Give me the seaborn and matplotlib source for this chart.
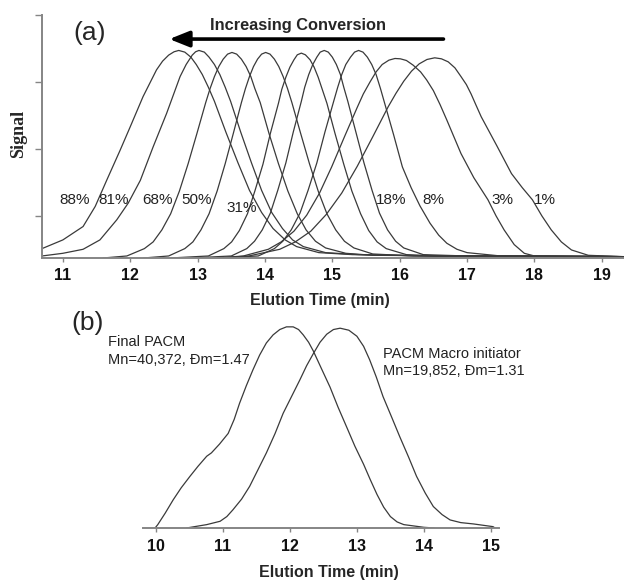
import matplotlib
matplotlib.use("Agg")
import matplotlib.pyplot as plt
import seaborn as sns
import pandas as pd

# ---- panel (a): GPC traces at increasing conversion ----
t88 = [10.69, 11.0, 11.3, 11.48, 11.65, 11.85, 12.0, 12.19, 12.39, 12.48, 12.57, 12.65, 12.72, 12.81,
       12.9, 12.98, 13.07, 13.16, 13.25, 13.42, 13.6, 13.77, 13.95, 14.12, 14.3, 14.47, 14.8, 15.3,
       16.5, 19.33]
s88 = [0.14, 0.27, 0.47, 0.77, 1.16, 1.61, 1.96, 2.41, 2.81, 2.94, 3.03, 3.08, 3.10, 3.075,
       3.00, 2.89, 2.74, 2.55, 2.34, 1.88, 1.42, 1.01, 0.68, 0.44, 0.27, 0.17, 0.08, 0.05,
       0.03, 0.02]

t81 = [10.69, 11.0, 11.3, 11.55, 11.8, 11.97, 12.15, 12.34, 12.54, 12.74, 12.83, 12.92, 12.97, 13.02,
       13.10, 13.17, 13.25, 13.33, 13.41, 13.49, 13.64, 13.8, 13.95, 14.1, 14.26, 14.41, 14.57, 14.9,
       15.4, 16.5, 19.33]
s81 = [0.03, 0.07, 0.13, 0.27, 0.57, 0.82, 1.16, 1.66, 2.16, 2.71, 2.89, 3.03, 3.08, 3.10,
       3.075, 3.00, 2.89, 2.74, 2.55, 2.34, 1.88, 1.42, 1.01, 0.68, 0.44, 0.27, 0.17, 0.08,
       0.05, 0.03, 0.02]

t68 = [11.6, 11.95, 12.21, 12.34, 12.47, 12.6, 12.73, 12.86, 12.99, 13.12, 13.185, 13.25, 13.315, 13.38,
       13.445, 13.51, 13.58, 13.65, 13.72, 13.79, 13.85, 13.93, 14.06, 14.2, 14.34, 14.48, 14.61, 14.75,
       14.9, 15.2, 15.6, 17.0, 19.33]
s68 = [0.0, 0.03, 0.14, 0.24, 0.42, 0.66, 1.0, 1.41, 1.86, 2.32, 2.53, 2.71, 2.86, 2.97,
       3.045, 3.07, 3.045, 2.97, 2.86, 2.71, 2.53, 2.32, 1.86, 1.41, 1.0, 0.66, 0.42, 0.25,
       0.15, 0.07, 0.04, 0.03, 0.02]

t50 = [12.2, 12.57, 12.81, 12.93, 13.05, 13.17, 13.29, 13.41, 13.53, 13.65, 13.71, 13.77, 13.83, 13.89,
       13.95, 14.01, 14.075, 14.14, 14.205, 14.27, 14.335, 14.4, 14.53, 14.66, 14.79, 14.92, 15.05, 15.18,
       15.32, 15.6, 16.2, 19.33]
s50 = [0.0, 0.03, 0.14, 0.24, 0.42, 0.66, 1.0, 1.41, 1.86, 2.32, 2.53, 2.71, 2.86, 2.97,
       3.045, 3.07, 3.045, 2.97, 2.86, 2.71, 2.53, 2.32, 1.86, 1.41, 1.0, 0.66, 0.42, 0.25,
       0.15, 0.06, 0.03, 0.02]

t31 = [12.6, 13.16, 13.39, 13.505, 13.62, 13.74, 13.85, 13.97, 14.08, 14.2, 14.25, 14.31, 14.37, 14.43,
       14.48, 14.54, 14.60, 14.67, 14.73, 14.79, 14.85, 14.92, 15.04, 15.17, 15.29, 15.42, 15.54, 15.665,
       15.8, 16.1, 16.6, 19.33]
s31 = [0.0, 0.03, 0.14, 0.24, 0.41, 0.66, 1.0, 1.40, 1.86, 2.31, 2.52, 2.70, 2.85, 2.96,
       3.035, 3.06, 3.035, 2.96, 2.85, 2.70, 2.52, 2.31, 1.86, 1.40, 1.0, 0.66, 0.41, 0.24,
       0.14, 0.05, 0.03, 0.02]

t18 = [12.9, 13.5, 13.73, 13.845, 13.96, 14.08, 14.19, 14.31, 14.42, 14.54, 14.59, 14.65, 14.71, 14.77,
       14.82, 14.88, 14.94, 15.0, 15.06, 15.12, 15.17, 15.23, 15.35, 15.47, 15.59, 15.7, 15.82, 15.94,
       16.06, 16.35, 17.0, 19.33]
s18 = [0.0, 0.03, 0.14, 0.25, 0.42, 0.67, 1.01, 1.42, 1.88, 2.34, 2.55, 2.74, 2.89, 3.00,
       3.075, 3.10, 3.075, 3.00, 2.89, 2.74, 2.55, 2.34, 1.88, 1.42, 1.01, 0.67, 0.42, 0.25,
       0.15, 0.05, 0.03, 0.02]

t8 = [13.3, 13.9, 14.14, 14.265, 14.39, 14.52, 14.64, 14.77, 14.89, 15.02, 15.08, 15.14, 15.2, 15.27,
      15.33, 15.39, 15.455, 15.52, 15.585, 15.65, 15.715, 15.78, 15.91, 16.04, 16.17, 16.3, 16.45, 16.58,
      16.7, 16.85, 17.0, 17.5, 19.33]
s8 = [0.0, 0.03, 0.14, 0.25, 0.42, 0.67, 1.01, 1.42, 1.88, 2.34, 2.55, 2.74, 2.89, 3.00,
      3.075, 3.10, 3.075, 3.00, 2.89, 2.74, 2.53, 2.30, 1.84, 1.36, 1.05, 0.78, 0.52, 0.34,
      0.22, 0.13, 0.08, 0.03, 0.02]

t3 = [13.3, 13.68, 14.05, 14.24, 14.43, 14.62, 14.81, 14.99, 15.18, 15.37, 15.46, 15.56, 15.65, 15.74,
      15.84, 15.93, 16.01, 16.1, 16.2, 16.31, 16.4, 16.5, 16.6, 16.7, 16.91, 17.1, 17.31, 17.43,
      17.55, 17.7, 17.85, 18.0, 19.33]
s3 = [0.0, 0.03, 0.13, 0.24, 0.40, 0.64, 0.97, 1.36, 1.81, 2.25, 2.45, 2.63, 2.78, 2.89,
      2.955, 2.98, 2.975, 2.95, 2.88, 2.78, 2.66, 2.50, 2.29, 2.06, 1.56, 1.20, 0.87, 0.63,
      0.42, 0.20, 0.07, 0.03, 0.02]

t1 = [13.3, 13.76, 14.22, 14.45, 14.68, 14.91, 15.14, 15.37, 15.6, 15.83, 15.945, 16.06, 16.175, 16.29,
      16.405, 16.52, 16.62, 16.72, 16.82, 16.91, 16.99, 17.06, 17.13, 17.21, 17.44, 17.66, 17.82, 17.97,
      18.11, 18.25, 18.4, 18.55, 18.8, 19.33]
s1 = [0.0, 0.03, 0.13, 0.24, 0.40, 0.65, 0.97, 1.37, 1.81, 2.26, 2.46, 2.64, 2.79, 2.90,
      2.965, 2.99, 2.975, 2.93, 2.84, 2.71, 2.59, 2.45, 2.29, 2.11, 1.68, 1.26, 1.05, 0.87,
      0.63, 0.42, 0.24, 0.12, 0.04, 0.02]

conversions = ["88%", "81%", "68%", "50%", "31%", "18%", "8%", "3%", "1%"]
times_a = [t88, t81, t68, t50, t31, t18, t8, t3, t1]
signals_a = [s88, s81, s68, s50, s31, s18, s8, s3, s1]
label_x = [11.18, 11.75, 12.40, 12.99, 13.66, 15.87, 16.50, 17.52, 18.16]
label_y = [0.87, 0.87, 0.87, 0.87, 0.75, 0.87, 0.87, 0.87, 0.87]

# ---- panel (b): final polymer vs macro initiator ----
t_final = [9.99, 10.03, 10.14, 10.26, 10.38, 10.51, 10.63, 10.76, 10.83, 10.95, 11.08, 11.17, 11.25,
           11.35, 11.45, 11.55, 11.65, 11.75, 11.85, 11.95, 12.05, 12.13, 12.2, 12.28, 12.35, 12.47,
           12.6, 12.72, 12.85, 12.97, 13.1, 13.2, 13.3, 13.4, 13.5, 13.6, 13.7, 14.0, 14.15]
s_final = [0.0, 0.05, 0.22, 0.42, 0.6, 0.77, 0.92, 1.07, 1.12, 1.25, 1.41, 1.62, 1.86,
           2.12, 2.36, 2.58, 2.76, 2.88, 2.96, 3.0, 3.0, 2.96, 2.88, 2.77, 2.64, 2.38,
           2.1, 1.8, 1.5, 1.22, 0.95, 0.72, 0.5, 0.31, 0.17, 0.09, 0.05, 0.01, 0.0]
t_macro = [10.46, 10.76, 10.96, 11.06, 11.15, 11.28, 11.4, 11.52, 11.65, 11.78, 11.9, 12.03, 12.15,
           12.25, 12.35, 12.45, 12.55, 12.65, 12.75, 12.88, 13.0, 13.1, 13.19, 13.29, 13.39, 13.52,
           13.64, 13.77, 13.89, 14.02, 14.14, 14.27, 14.39, 14.55, 14.74, 15.03, 15.06]
s_macro = [0.0, 0.05, 0.1, 0.17, 0.27, 0.43, 0.62, 0.86, 1.12, 1.41, 1.71, 1.97, 2.21,
           2.42, 2.6, 2.77, 2.89, 2.96, 2.98, 2.95, 2.86, 2.71, 2.51, 2.25, 1.96, 1.65,
           1.36, 1.06, 0.77, 0.52, 0.32, 0.2, 0.12, 0.08, 0.06, 0.02, 0.0]

rows = []
for name, t, s in zip(conversions, times_a, signals_a):
    for ti, si in zip(t, s):
        rows.append((name, ti, si))
df_a = pd.DataFrame(rows, columns=["curve", "time", "signal"])

rows = []
for name, t, s in [("final", t_final, s_final), ("macro", t_macro, s_macro)]:
    for ti, si in zip(t, s):
        rows.append((name, ti, si))
df_b = pd.DataFrame(rows, columns=["curve", "time", "signal"])

sns.set_theme(style="white")
plt.rcParams["font.family"] = ["Liberation Sans", "DejaVu Sans"]

line_col = "#3a3a3a"
axis_col = "#858585"

fig = plt.figure(figsize=(6.24, 5.8), dpi=100)
ax_a = fig.add_axes([0.0673, 0.5552, 0.9327, 0.419])
ax_b = fig.add_axes([0.2292, 0.0897, 0.5705, 0.393])
ax_b.set_facecolor("none")

sns.lineplot(data=df_a, x="time", y="signal", units="curve", estimator=None,
             color=line_col, linewidth=0.9, ax=ax_a)
sns.lineplot(data=df_b, x="time", y="signal", units="curve", estimator=None,
             color=line_col, linewidth=0.9, ax=ax_b)

# panel (a) axes
ax_a.set_xlim(10.69, 19.33)
ax_a.set_ylim(0, 3.63)
ax_a.set_xticks(range(11, 20))
ax_a.set_yticks([0.63, 1.63, 2.63, 3.63])
ax_a.set_yticklabels([])
ax_a.tick_params(axis="x", bottom=True, direction="out", length=3, width=1, color=axis_col,
                 pad=4, labelsize=11.5, labelcolor="#111111")
ax_a.tick_params(axis="y", left=True, direction="out", length=5, width=1, color=axis_col)
plt.setp(ax_a.get_xticklabels(), fontweight="bold")
for side in ["top", "right"]:
    ax_a.spines[side].set_visible(False)
for side in ["left", "bottom"]:
    ax_a.spines[side].set_color(axis_col)
    ax_a.spines[side].set_linewidth(1.4)

ax_a.set_xlabel("Elution Time (min)", fontsize=11.5, fontweight="bold")
ax_a.xaxis.set_label_coords(0.478, -0.173)
ax_a.xaxis.label.set_va("center")
ax_a.set_ylabel("Signal", fontsize=13, fontweight="bold", family=["Liberation Serif", "DejaVu Serif"])
ax_a.yaxis.set_label_coords(-0.0395, 0.51)
ax_a.yaxis.label.set_va("center")

for name, x, y in zip(conversions, label_x, label_y):
    ax_a.text(x, y, name, ha="center", va="center", fontsize=11, color="#222222")

ax_a.annotate("", xy=(12.58, 3.27), xytext=(16.65, 3.27),
              arrowprops=dict(arrowstyle="-|>,head_length=0.8,head_width=0.32", lw=2.6,
                              color="black", mutation_scale=15, shrinkA=0, shrinkB=0))
ax_a.text(14.49, 3.48, "Increasing Conversion", ha="center", va="center",
          fontsize=11.8, fontweight="bold")
ax_a.text(11.39, 3.36, "(a)", ha="center", va="center", fontsize=19)

# panel (b) axes
ax_b.set_xlim(9.81, 15.12)
ax_b.set_ylim(0, 3.4)
ax_b.set_xticks(range(10, 16))
ax_b.set_yticks([])
ax_b.set_ylabel("")
ax_b.tick_params(axis="x", bottom=True, direction="out", length=3, width=1, color=axis_col,
                 pad=5, labelsize=11.5, labelcolor="#111111")
plt.setp(ax_b.get_xticklabels(), fontweight="bold")
for side in ["top", "right", "left"]:
    ax_b.spines[side].set_visible(False)
ax_b.spines["bottom"].set_color(axis_col)
ax_b.spines["bottom"].set_linewidth(1.4)
ax_b.set_xlabel("Elution Time (min)", fontsize=11.5, fontweight="bold")
ax_b.xaxis.set_label_coords(0.522, -0.197)
ax_b.xaxis.label.set_va("center")

fig.text(0.141, 0.443, "(b)", ha="center", va="center", fontsize=19)
fig.text(0.173, 0.410, "Final PACM", ha="left", va="center", fontsize=10.5, color="#222222")
fig.text(0.173, 0.379, "Mn=40,372, Đm=1.47", ha="left", va="center", fontsize=10.5, color="#222222")
fig.text(0.614, 0.390, "PACM Macro initiator", ha="left", va="center", fontsize=10.5, color="#222222")
fig.text(0.614, 0.360, "Mn=19,852, Đm=1.31", ha="left", va="center", fontsize=10.5, color="#222222")

fig.savefig("out.png", dpi=100)
